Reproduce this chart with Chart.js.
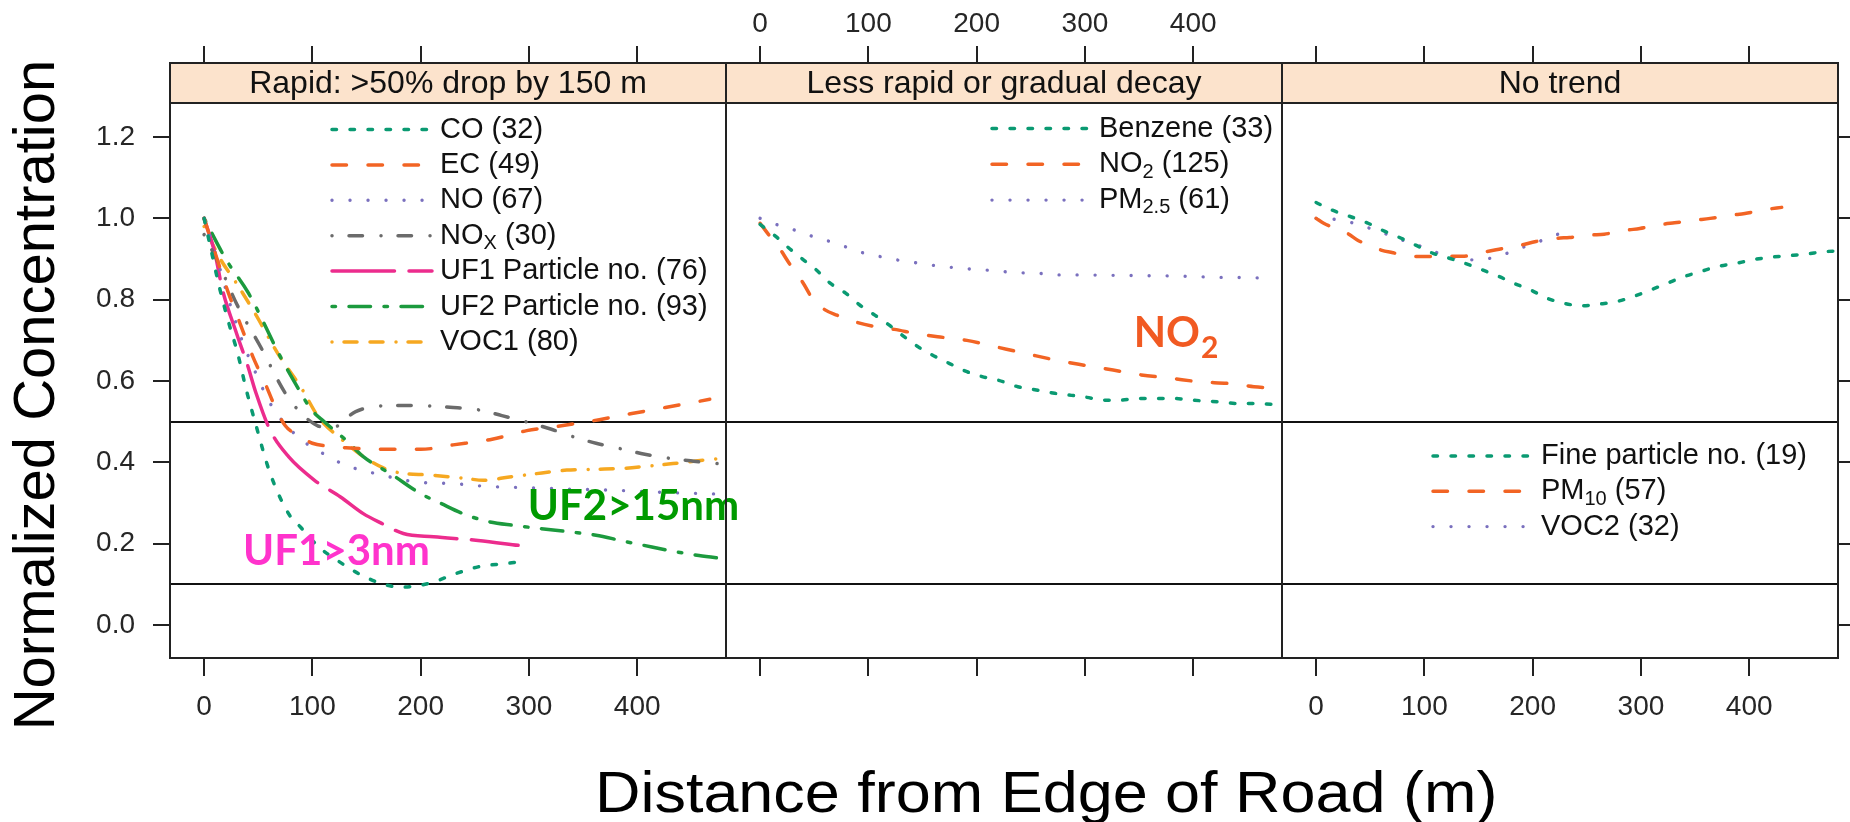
<!DOCTYPE html>
<html><head><meta charset="utf-8">
<script src="https://cdn.jsdelivr.net/npm/chart.js@4.4.0/dist/chart.umd.min.js"></script>
<style>
html,body{margin:0;padding:0;background:#fff;}
#wrap{position:relative;width:1850px;height:822px;overflow:hidden;}
canvas{position:absolute;left:0;top:0;}
#xtitle{position:absolute;left:595px;top:763px;height:58px;line-height:58px;text-align:left;
  font-family:"Liberation Sans", Arial, Helvetica, sans-serif;font-size:58px;color:#000;white-space:nowrap;
  transform-origin:left center;transform:scaleX(1.085);}
</style></head><body>
<div id="wrap">
<canvas id="p1" width="1850" height="822"></canvas>
<canvas id="p2" width="1850" height="822"></canvas>
<canvas id="p3" width="1850" height="822"></canvas>
<div id="xtitle"></div>
</div>
<script>
// ---------------- DATA ----------------
const xTicks = [0, 100, 200, 300, 400];
const yTicks = [0, 0.2, 0.4, 0.6, 0.8, 1.0, 1.2];
const refLines = [0.1, 0.5];
const xRange = [-31.5, 482];
const yRange = [-0.081, 1.382];

const xTitleText = 'Distance from Edge of Road (m)';
const yTitleText = 'Normalized Concentration';
const stripLabels = ['Rapid: >50% drop by 150 m', 'Less rapid or gradual decay', 'No trend'];
const rapidNames = ['CO (32)', 'EC (49)', 'NO (67)', 'NO_{X} (30)', 'UF1 Particle no. (76)', 'UF2 Particle no. (93)', 'VOC1 (80)'];
const gradualNames = ['Benzene (33)', 'NO_{2} (125)', 'PM_{2.5} (61)'];
const noTrendNames = ['Fine particle no. (19)', 'PM_{10} (57)', 'VOC2 (32)'];

// Panel 1: Rapid
const coX = [0, 5, 14, 22, 31, 39, 47, 61, 78, 89, 106, 123, 143, 164, 181, 198, 212, 232, 253, 277, 290];
const coY = [1.0, 0.94, 0.832, 0.75, 0.668, 0.578, 0.5, 0.373, 0.274, 0.241, 0.192, 0.159, 0.126, 0.102, 0.093, 0.097, 0.106, 0.126, 0.143, 0.151, 0.155];
const ecX = [0, 12, 22, 32, 45, 57, 65, 75, 88, 100, 115, 131, 165, 200, 230, 266, 298, 330, 365, 395, 426, 467];
const ecY = [1.0, 0.9, 0.82, 0.75, 0.66, 0.59, 0.54, 0.49, 0.465, 0.447, 0.44, 0.436, 0.432, 0.432, 0.443, 0.457, 0.478, 0.49, 0.505, 0.52, 0.535, 0.555];
const noX = [0, 12, 25, 35, 46, 58, 67, 77, 90, 102, 131, 164, 195, 229, 261, 295, 328, 358, 393, 427, 476];
const noY = [1.0, 0.9, 0.78, 0.7, 0.63, 0.56, 0.52, 0.488, 0.455, 0.434, 0.393, 0.369, 0.352, 0.348, 0.341, 0.338, 0.335, 0.333, 0.33, 0.326, 0.322];
const noxX = [0, 15, 30, 53, 75, 90, 105, 118, 140, 165, 190, 230, 256, 275, 297, 320, 341, 362, 384, 407, 430, 452, 474];
const noxY = [0.96, 0.88, 0.79, 0.68, 0.57, 0.52, 0.49, 0.485, 0.525, 0.539, 0.54, 0.535, 0.528, 0.515, 0.5, 0.482, 0.463, 0.447, 0.434, 0.42, 0.41, 0.403, 0.397];
const uf1X = [0, 10, 17, 30, 40, 48, 61, 78, 102, 126, 147, 164, 184, 212, 253, 290];
const uf1Y = [1.0, 0.914, 0.824, 0.717, 0.64, 0.57, 0.479, 0.414, 0.356, 0.315, 0.274, 0.25, 0.225, 0.217, 0.208, 0.196];
const uf2X = [0, 20, 41, 72, 83, 99, 111, 133, 147, 174, 200, 218, 241, 263, 287, 311, 338, 362, 386, 406, 432, 457, 481];
const uf2Y = [1.0, 0.9, 0.816, 0.652, 0.6, 0.53, 0.5, 0.45, 0.414, 0.369, 0.323, 0.3, 0.272, 0.254, 0.245, 0.237, 0.229, 0.221, 0.207, 0.196, 0.182, 0.171, 0.163];
const voc1X = [0, 15, 30, 48, 68, 90, 106, 126, 145, 165, 181, 208, 240, 258, 282, 312, 335, 362, 386, 411, 433, 456, 478];
const voc1Y = [0.98, 0.9, 0.84, 0.762, 0.668, 0.582, 0.51, 0.459, 0.418, 0.387, 0.374, 0.369, 0.361, 0.356, 0.364, 0.374, 0.381, 0.383, 0.385, 0.391, 0.397, 0.404, 0.41];

// Panel 2: Less rapid
const benX = [0, 13, 27, 40, 52, 65, 79, 92, 106, 119, 133, 146, 159, 175, 191, 205, 220, 238, 255, 272, 299, 319, 332, 349, 366, 383, 399, 423, 440, 456, 473, 482];
const benY = [0.985, 0.959, 0.926, 0.898, 0.873, 0.84, 0.816, 0.787, 0.762, 0.738, 0.709, 0.684, 0.664, 0.643, 0.623, 0.611, 0.602, 0.586, 0.578, 0.57, 0.561, 0.553, 0.553, 0.557, 0.557, 0.557, 0.553, 0.549, 0.545, 0.545, 0.543, 0.543];
const no2X = [0, 7, 17, 27, 40, 49, 60, 71, 91, 104, 124, 144, 164, 191, 218, 245, 272, 299, 326, 352, 379, 406, 433, 456, 482];
const no2Y = [0.988, 0.963, 0.93, 0.889, 0.84, 0.8, 0.775, 0.762, 0.743, 0.735, 0.727, 0.717, 0.709, 0.7, 0.684, 0.668, 0.652, 0.639, 0.627, 0.615, 0.607, 0.598, 0.594, 0.586, 0.582];
const pm25X = [0, 15, 32, 47, 62, 79, 94, 111, 126, 143, 158, 175, 191, 208, 225, 242, 257, 274, 290, 322, 356, 389, 421, 455, 472];
const pm25Y = [1.0, 0.985, 0.971, 0.957, 0.945, 0.93, 0.916, 0.906, 0.898, 0.891, 0.885, 0.88, 0.876, 0.873, 0.869, 0.866, 0.865, 0.861, 0.861, 0.86, 0.859, 0.858, 0.855, 0.854, 0.852];

// Panel 3: No trend
const fineX = [0, 15, 32, 48, 61, 77, 92, 108, 123, 138, 154, 169, 183, 198, 214, 229, 246, 261, 277, 292, 309, 324, 340, 355, 370, 387, 403, 418, 435, 452, 469, 482];
const fineY = [1.039, 1.02, 1.004, 0.988, 0.971, 0.953, 0.934, 0.914, 0.902, 0.889, 0.873, 0.857, 0.84, 0.824, 0.803, 0.791, 0.785, 0.789, 0.795, 0.807, 0.824, 0.84, 0.857, 0.869, 0.881, 0.889, 0.898, 0.904, 0.908, 0.912, 0.918, 0.92];
const pm10X = [0, 7, 29, 38, 60, 70, 92, 104, 125, 137, 157, 169, 189, 203, 222, 234, 254, 266, 287, 299, 319, 331, 352, 364, 384, 396, 416, 430];
const pm10Y = [1.0, 0.988, 0.963, 0.947, 0.922, 0.916, 0.906, 0.906, 0.907, 0.907, 0.918, 0.924, 0.934, 0.943, 0.951, 0.953, 0.959, 0.961, 0.971, 0.975, 0.985, 0.989, 0.996, 1.0, 1.008, 1.012, 1.022, 1.027];
const voc2X = [0, 16, 32, 48, 63, 78, 94, 109, 125, 142, 157, 172, 188, 204, 219, 235];
const voc2Y = [1.0, 0.998, 0.99, 0.977, 0.963, 0.948, 0.934, 0.918, 0.905, 0.898, 0.9, 0.91, 0.926, 0.941, 0.957, 0.971];

// annotation texts (data coordinates)
const noteTexts = ['UF1>3nm', 'UF2>15nm', 'NO'];
const noteX = [36, 299, 345];
const noteY = [0.1475, 0.258, 0.684];

// ---------------- STYLE ----------------
const FONT = '"Liberation Sans", Arial, Helvetica, sans-serif';
const NOTE_FONT = 'Lato, "Open Sans", sans-serif';
Chart.defaults.font.family = FONT;
document.getElementById('xtitle').textContent = xTitleText;
const ST = {
  teal:   {color: '#0A9A72', dash: [4.5, 13.5]},
  orange: {color: '#F26424', dash: [14.5, 21.5]},
  purple: {color: '#7A70BE', dash: [0.01, 18], w: 3.4},
  gray:   {color: '#6B6B6B', dash: [0.01, 17, 13.5, 18.5]},
  pink:   {color: '#EC2C8D', dash: [62.5, 14.5]},
  green:  {color: '#1C9A3E', dash: [3.5, 13.5, 21.5, 13.5]},
  yellow: {color: '#F6A821', dash: [0.01, 12, 13, 13, 13, 13]}
};
const STRIP_H = 40;

function ds(label, xs, ys, st) {
  return {
    label: label.replace(/_\{([^}]*)\}/g, '$1'), richLabel: label,
    data: xs.map((x, i) => ({x: x, y: ys[i]})),
    xAxisID: 'x', yAxisID: 'y',
    borderColor: st.color, backgroundColor: st.color,
    borderDash: st.dash, borderWidth: st.w || 3.5, borderCapStyle: 'round',
    pointRadius: 0, fill: false, cubicInterpolationMode: 'monotone'
  };
}

function drawRich(ctx, str, x, y, size) {
  const re = /_\{([^}]*)\}/g; let last = 0, m; const parts = [];
  while ((m = re.exec(str))) { parts.push([str.slice(last, m.index), false]); parts.push([m[1], true]); last = re.lastIndex; }
  parts.push([str.slice(last), false]);
  let cx = x;
  for (const [t, sub] of parts) {
    if (!t) continue;
    ctx.font = (sub ? Math.round(size * 0.68) : size) + 'px ' + FONT;
    ctx.fillText(t, cx, y + (sub ? size * 0.27 : 0));
    cx += ctx.measureText(t).width;
  }
}

const panelPlugin = {
  id: 'panel',
  afterDraw(chart, args, opts) {
    const ctx = chart.ctx, a = chart.chartArea;
    ctx.save();
    ctx.setLineDash([]);
    ctx.fillStyle = '#FCE3CC';
    ctx.fillRect(a.left, a.top, a.right - a.left, STRIP_H);
    ctx.strokeStyle = '#222'; ctx.lineWidth = 2;
    ctx.beginPath(); ctx.moveTo(a.left, a.top + STRIP_H); ctx.lineTo(a.right, a.top + STRIP_H); ctx.stroke();
    ctx.strokeRect(a.left, a.top, a.right - a.left, a.bottom - a.top);
    ctx.fillStyle = '#111'; ctx.font = '32px ' + FONT; ctx.textAlign = 'center'; ctx.textBaseline = 'middle';
    ctx.fillText(opts.strip, (a.left + a.right) / 2, a.top + STRIP_H / 2 + 1);
    // legend
    const L = opts.legend;
    chart.data.datasets.forEach((d, i) => {
      const y = L.y0 + i * L.dy;
      ctx.save();
      ctx.strokeStyle = d.borderColor; ctx.lineWidth = d.borderWidth; ctx.lineCap = 'round';
      ctx.setLineDash(d.borderDash);
      ctx.beginPath(); ctx.moveTo(L.x0, y); ctx.lineTo(L.x1, y); ctx.stroke();
      ctx.restore();
      ctx.fillStyle = '#111'; ctx.textAlign = 'left'; ctx.textBaseline = 'middle';
      drawRich(ctx, d.richLabel, L.tx, y, 29);
    });
    // notes
    (opts.notes || []).forEach(n => {
      const px = chart.scales.x.getPixelForValue(noteX[n.i]);
      const py = chart.scales.y.getPixelForValue(noteY[n.i]);
      ctx.fillStyle = n.color; ctx.textAlign = 'left'; ctx.textBaseline = 'alphabetic';
      ctx.font = 'bold 42px ' + NOTE_FONT;
      ctx.fillText(noteTexts[n.i], px, py);
      if (n.sub) {
        const w = ctx.measureText(noteTexts[n.i]).width;
        ctx.font = 'bold 30px ' + NOTE_FONT;
        ctx.fillText(n.sub, px + w + 1, py + 11);
      }
    });
    ctx.restore();
  }
};

function makeScales(c) {
  const tickFont = {family: FONT, size: 28};
  const gridTicks = (len) => ({drawOnChartArea: false, drawTicks: true, tickLength: len, color: '#222', lineWidth: 2});
  return {
    x: {
      type: 'linear', position: 'bottom', min: xRange[0], max: xRange[1],
      afterBuildTicks: s => { s.ticks = xTicks.map(v => ({value: v})); },
      afterFit: s => { s.height = c.bottomH; },
      grid: gridTicks(18), border: {display: false},
      ticks: {display: c.bottomLabels, font: tickFont, color: '#262626', padding: 14, maxRotation: 0, autoSkip: false}
    },
    xTop: {
      type: 'linear', position: 'top', min: xRange[0], max: xRange[1],
      afterBuildTicks: s => { s.ticks = xTicks.map(v => ({value: v})); },
      afterFit: s => { s.height = 63; },
      grid: gridTicks(17), border: {display: false},
      ticks: {display: c.topLabels, font: tickFont, color: '#262626', padding: 5, maxRotation: 0, autoSkip: false}
    },
    y: {
      type: 'linear', position: c.yPos, display: c.yDisplay, min: yRange[0], max: yRange[1],
      afterBuildTicks: s => { s.ticks = yTicks.map(v => ({value: v})); },
      afterFit: s => { s.width = c.yWidth; },
      grid: gridTicks(17), border: {display: false},
      ticks: {display: c.yLabels, font: tickFont, color: '#262626', padding: 18, callback: v => Number(v).toFixed(1)}
    },
    yRef: {
      type: 'linear', position: 'left', min: yRange[0], max: yRange[1],
      afterBuildTicks: s => { s.ticks = refLines.map(v => ({value: v})); },
      afterFit: s => { s.width = 0; },
      grid: {drawOnChartArea: true, drawTicks: false, color: '#111', lineWidth: 2},
      border: {display: false}, ticks: {display: false}
    }
  };
}

function makeChart(id, datasets, c) {
  return new Chart(document.getElementById(id), {
    type: 'line',
    data: {datasets: datasets},
    options: {
      responsive: false, animation: false, devicePixelRatio: 1, events: [],
      layout: {padding: c.padding},
      scales: makeScales(c),
      plugins: {
        legend: {display: false}, tooltip: {enabled: false},
        title: c.yTitle ? {display: true, position: 'left', text: c.yTitle, color: '#000',
          font: {family: FONT, size: 58, weight: 'normal', lineHeight: 1}, padding: {top: 9, bottom: 0}} : {display: false},
        panel: {strip: c.strip, legend: c.legend, notes: c.notes}
      }
    },
    plugins: [panelPlugin]
  });
}

makeChart('p1', [
  ds(rapidNames[0], coX, coY, ST.teal),
  ds(rapidNames[1], ecX, ecY, ST.orange),
  ds(rapidNames[2], noX, noY, ST.purple),
  ds(rapidNames[3], noxX, noxY, ST.gray),
  ds(rapidNames[4], uf1X, uf1Y, ST.pink),
  ds(rapidNames[5], uf2X, uf2Y, ST.green),
  ds(rapidNames[6], voc1X, voc1Y, ST.yellow)
], {
  padding: {left: 0, right: 1124, top: 0, bottom: 32},
  bottomH: 132, bottomLabels: true, topLabels: false,
  yPos: 'left', yDisplay: true, yLabels: true, yWidth: 103,
  yTitle: yTitleText,
  strip: stripLabels[0],
  legend: {x0: 332, x1: 432, tx: 440, y0: 129.5, dy: 35.4},
  notes: [{i: 0, color: '#FF33CC'}, {i: 1, color: '#009A00'}]
});

makeChart('p2', [
  ds(gradualNames[0], benX, benY, ST.teal),
  ds(gradualNames[1], no2X, no2Y, ST.orange),
  ds(gradualNames[2], pm25X, pm25Y, ST.purple)
], {
  padding: {left: 726, right: 568, top: 0, bottom: 0},
  bottomH: 164, bottomLabels: false, topLabels: true,
  yPos: 'left', yDisplay: false, yLabels: false, yWidth: 0,
  strip: stripLabels[1],
  legend: {x0: 992, x1: 1088, tx: 1099, y0: 128.5, dy: 35.8},
  notes: [{i: 2, color: '#F15A22', sub: '2'}]
});

makeChart('p3', [
  ds(noTrendNames[0], fineX, fineY, ST.teal),
  ds(noTrendNames[1], pm10X, pm10Y, ST.orange),
  ds(noTrendNames[2], voc2X, voc2Y, ST.purple)
], {
  padding: {left: 1282, right: 0, top: 0, bottom: 0},
  bottomH: 164, bottomLabels: true, topLabels: false,
  yPos: 'right', yDisplay: true, yLabels: false, yWidth: 12,
  strip: stripLabels[2],
  legend: {x0: 1433, x1: 1531, tx: 1541, y0: 456, dy: 35.3},
  notes: []
});
</script>
</body></html>
